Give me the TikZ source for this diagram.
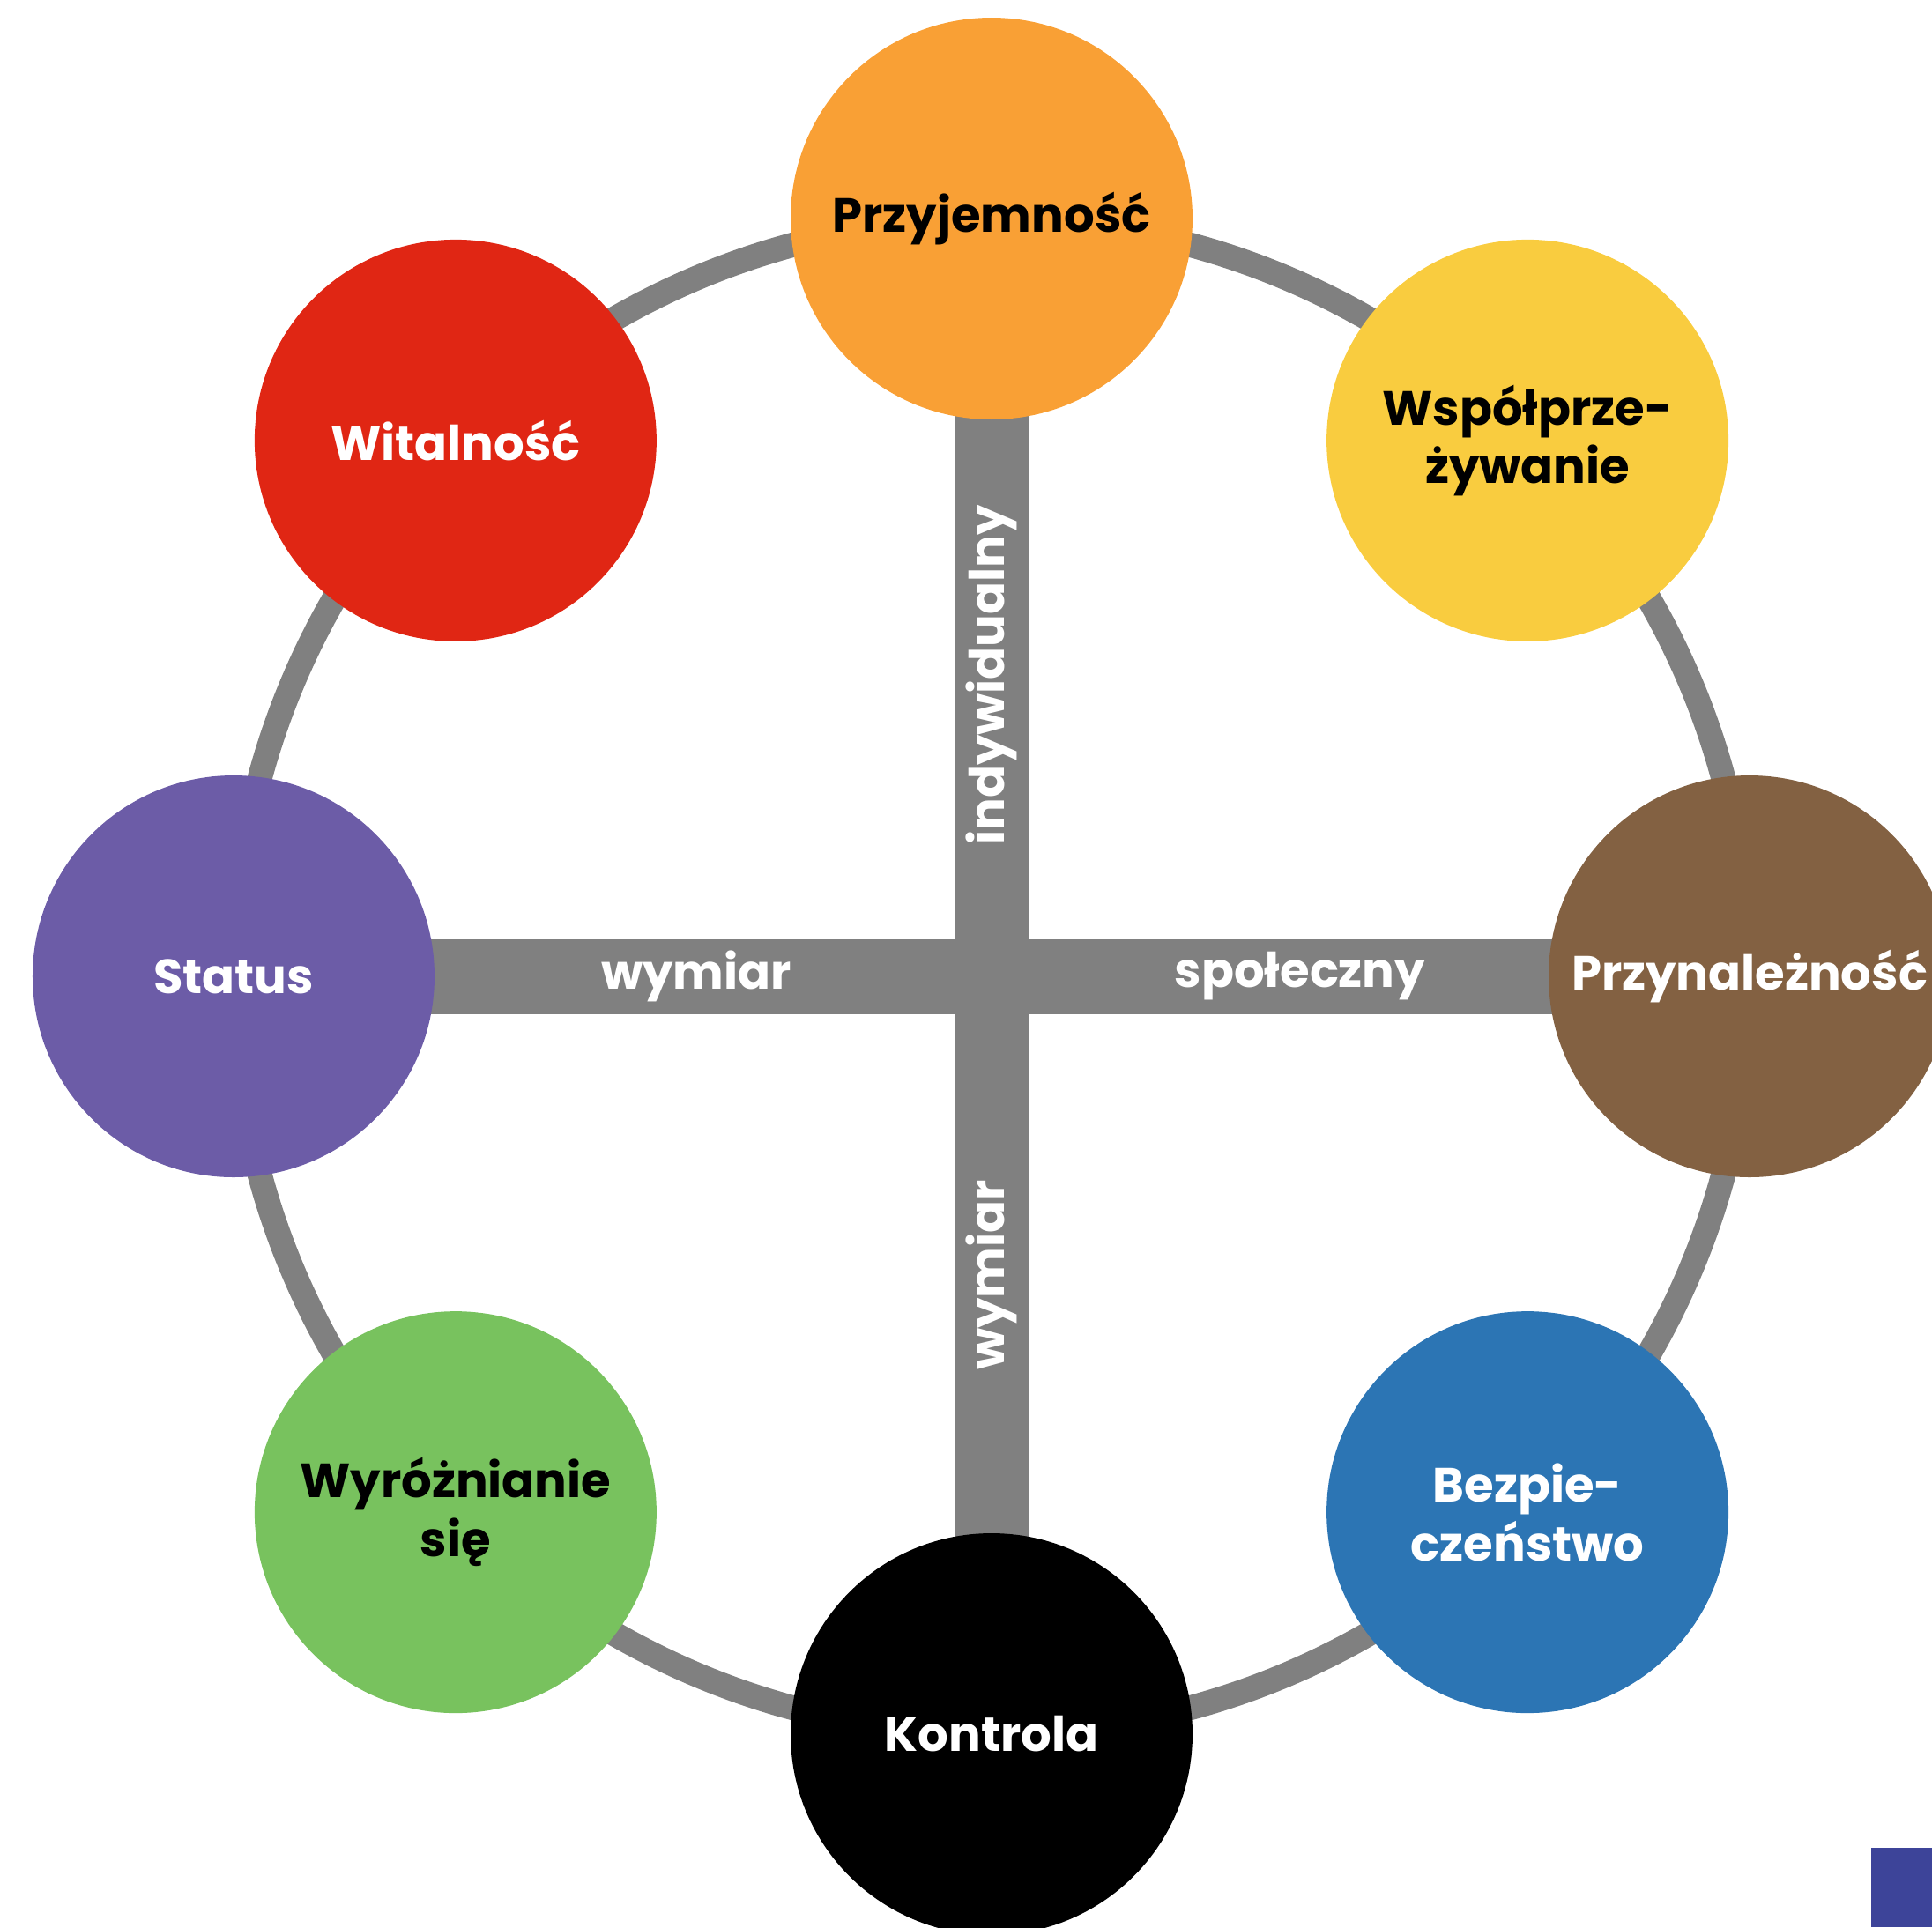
\documentclass[tikz,border=0pt]{standalone}
\usepackage{fontspec}
\setmainfont{Poppins}
\usetikzlibrary{backgrounds}

\definecolor{ringgray}{HTML}{808080}
\definecolor{cOrange}{HTML}{F9A035}
\definecolor{cYellow}{HTML}{F9CC3F}
\definecolor{cBrown}{HTML}{836142}
\definecolor{cBlue}{HTML}{2C75B4}
\definecolor{cGreen}{HTML}{78C25E}
\definecolor{cPurple}{HTML}{6C5CA7}
\definecolor{cRed}{HTML}{E02614}
\definecolor{cCorner}{HTML}{3D4499}

\tikzset{
  value/.style={circle, minimum size=4.56cm, inner sep=0pt, align=center,
    font=\bfseries\fontsize{15.5}{19}\selectfont},
  ring/.style={draw=ringgray, line width=0.28cm},
  bar/.style={draw=ringgray, line width=0.85cm},
  axislabel/.style={text=white, inner sep=0pt,
    font=\bfseries\fontsize{15.5}{19}\selectfont}
}

\begin{document}
\begin{tikzpicture}

\useasboundingbox (-11.25,-10.79) rectangle (10.67,11.08);
\clip (-11.25,-10.79) rectangle (10.67,11.08);
\coordinate (o) at (0,0);

% eight values round the ring
\foreach \ang/\nm/\col/\tc/\lbl in {
    90/przyj/cOrange/black/{Przyjemność},
    45/wspol/cYellow/black/{Współprze-\\żywanie},
    0/przyn/cBrown/white/{Przynależność},
    -45/bezp/cBlue/white/{Bezpie-\\czeństwo},
    -90/kontr/black/white/{Kontrola},
    -135/wyroz/cGreen/black/{Wyróżnianie\\się},
    180/status/cPurple/white/{Status},
    135/wital/cRed/white/{Witalność}}
  \node[value, fill=\col, text=\tc] (\nm) at (\ang:8.6) {\lbl};

\begin{scope}[on background layer]
  \draw[ring] (o) circle (8.6cm);
  \draw[bar] (przyj.center) -- (kontr.center);
  \draw[bar] (status.center) -- (przyn.center);
\end{scope}

% axis labels
\node[axislabel, rotate=90] (indyw) at (0,3.42) {indywidualny};
\node[axislabel, rotate=90] (wymv) at (0,-3.39) {wymiar};
\node[axislabel] (wymh) at (-3.35,0) {wymiar};
\node[axislabel] (spol) at (3.50,0) {społeczny};

\fill[cCorner] (9.98,-9.89) rectangle (10.67,-10.79);

\end{tikzpicture}
\end{document}
